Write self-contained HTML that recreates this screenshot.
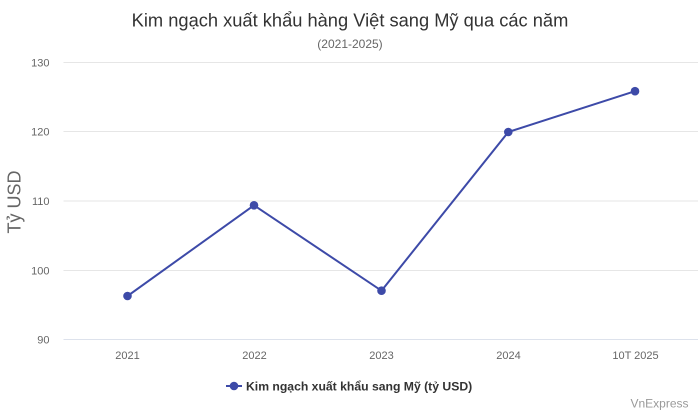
<!DOCTYPE html>
<html>
<head>
<meta charset="utf-8">
<style>
html,body{margin:0;padding:0;background:#fff;}
svg{display:block;font-family:"Liberation Sans",Arial,sans-serif;}
</style>
</head>
<body>
<svg width="700" height="413" viewBox="0 0 700 413" xmlns="http://www.w3.org/2000/svg">
<rect x="0" y="0" width="700" height="413" fill="#ffffff"/>
<text x="350" y="26.5" text-anchor="middle" font-size="18.3" fill="#333333">Kim ngạch xuất khẩu hàng Việt sang Mỹ qua các năm</text>
<text x="350" y="48" text-anchor="middle" font-size="12" fill="#666666">(2021-2025)</text>

<g stroke="#e6e6e6" stroke-width="1">
<line x1="63.5" y1="62.5" x2="698" y2="62.5"/>
<line x1="63.5" y1="131.5" x2="698" y2="131.5"/>
<line x1="63.5" y1="201" x2="698" y2="201"/>
<line x1="63.5" y1="270.5" x2="698" y2="270.5"/>
</g>
<line x1="63.5" y1="339.5" x2="698" y2="339.5" stroke="#dde2ec" stroke-width="1"/>

<g font-size="11" fill="#666666" text-anchor="end">
<text x="49.5" y="66.5">130</text>
<text x="49.5" y="135.5">120</text>
<text x="49.5" y="205">110</text>
<text x="49.5" y="274.5">100</text>
<text x="49.5" y="343.5">90</text>
</g>

<text transform="translate(20.5,202) rotate(-90)" text-anchor="middle" font-size="18" fill="#666666">Tỷ USD</text>

<g font-size="11" fill="#666666" text-anchor="middle">
<text x="127.5" y="359">2021</text>
<text x="254.5" y="359">2022</text>
<text x="381.5" y="359">2023</text>
<text x="508.5" y="359">2024</text>
<text x="635.5" y="359">10T 2025</text>
</g>

<polyline points="127.5,296 254,205.3 381.5,290.7 508.3,132 635,91.2" fill="none" stroke="#3d4aa8" stroke-width="2" stroke-linejoin="round" stroke-linecap="round"/>
<g fill="#3d4aa8">
<circle cx="127.5" cy="296" r="4.3"/>
<circle cx="254" cy="205.3" r="4.3"/>
<circle cx="381.5" cy="290.7" r="4.3"/>
<circle cx="508.3" cy="132" r="4.3"/>
<circle cx="635" cy="91.2" r="4.3"/>
</g>

<line x1="226" y1="386" x2="242" y2="386" stroke="#3d4aa8" stroke-width="2"/>
<circle cx="234" cy="386" r="4.3" fill="#3d4aa8"/>
<text x="246" y="390.5" font-size="12.2" font-weight="bold" fill="#333333">Kim ngạch xuất khẩu sang Mỹ (tỷ USD)</text>

<text x="688.5" y="407.7" text-anchor="end" font-size="12" fill="#999999">VnExpress</text>
</svg>
</body>
</html>
